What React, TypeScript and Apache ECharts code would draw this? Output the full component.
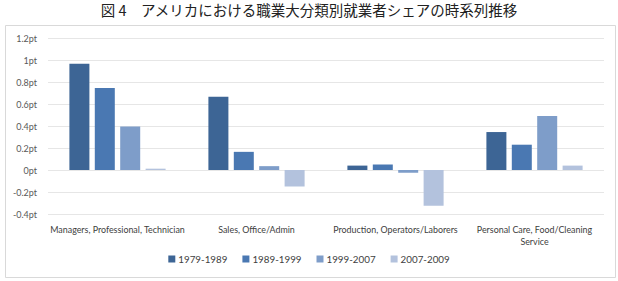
import React, { useEffect, useRef } from "react";
import * as echarts from "echarts";

// Occupation groups and change in employment share (percentage points) per period
const categories = [
  "Managers, Professional, Technician",
  "Sales, Office/Admin",
  "Production, Operators/Laborers",
  "Personal Care, Food/Cleaning Service",
];
const periods = ["1979-1989", "1989-1999", "1999-2007", "2007-2009"];
const share1979_1989 = [0.965, 0.665, 0.04, 0.345];
const share1989_1999 = [0.745, 0.165, 0.05, 0.23];
const share1999_2007 = [0.395, 0.035, -0.025, 0.49];
const share2007_2009 = [0.012, -0.15, -0.325, 0.04];
const yTicks = { min: -0.4, max: 1.2, interval: 0.2 };

const colors = ["#3d6595", "#4a78b2", "#7e9dc9", "#b3c2dd"];
const font = "Lato, 'Noto Sans', sans-serif";

export default function App() {
  const ref = useRef<HTMLDivElement>(null);

  useEffect(() => {
    if (!ref.current) return;
    const chart = echarts.init(ref.current, undefined, { renderer: "svg" });
    const seriesData = [share1979_1989, share1989_1999, share1999_2007, share2007_2009];
    chart.setOption({
      animation: false,
      backgroundColor: "#ffffff",
      textStyle: { fontFamily: font },
      title: {
        text: "図 4\u3000アメリカにおける職業大分類別就業者シェアの時系列推移",
        left: "center",
        top: -3,
        textStyle: {
          fontFamily: "'Noto Sans CJK JP', sans-serif",
          fontSize: 14.5,
          fontWeight: "normal",
          color: "#222222",
        },
      },
      graphic: [
        {
          type: "rect",
          shape: { x: 5.5, y: 25.5, width: 610, height: 252 },
          style: { fill: "none", stroke: "#d9d9d9", lineWidth: 1 },
          silent: true,
          z: -1,
        },
      ],
      legend: {
        data: periods,
        bottom: 12,
        left: "center",
        itemWidth: 7,
        itemHeight: 7,
        itemGap: 15,
        icon: "rect",
        textStyle: { fontFamily: font, fontSize: 9.8, color: "#404040", padding: [0, 0, 0, -2] },
      },
      grid: { left: 48, right: 14, top: 38, bottom: 67 },
      xAxis: {
        type: "category",
        data: categories,
        axisLine: { show: false },
        axisTick: { show: false },
        axisLabel: {
          interval: 0,
          margin: 9,
          fontFamily: font,
          fontSize: 8.9,
          color: "#404040",
          lineHeight: 12,
          formatter: (v: string) => v.replace("Food/Cleaning ", "Food/Cleaning\n"),
        },
      },
      yAxis: {
        type: "value",
        min: yTicks.min,
        max: yTicks.max,
        interval: yTicks.interval,
        axisLine: { show: false },
        axisTick: { show: false },
        splitLine: { lineStyle: { color: "#e6e6e6", width: 1 } },
        axisLabel: {
          margin: 11,
          fontFamily: font,
          fontSize: 9,
          color: "#595959",
          formatter: (v: number) => `${Math.round(v * 10) / 10}pt`,
        },
      },
      series: periods.map((name, i) => ({
        name,
        type: "bar",
        data: seriesData[i],
        barWidth: 20,
        barGap: "27%",
        itemStyle: { color: colors[i] },
      })),
    });
    return () => chart.dispose();
  }, []);

  return (
    <div
      ref={ref}
      style={{ position: "absolute", left: 0, top: 0, width: 618, height: 281 }}
    />
  );
}
